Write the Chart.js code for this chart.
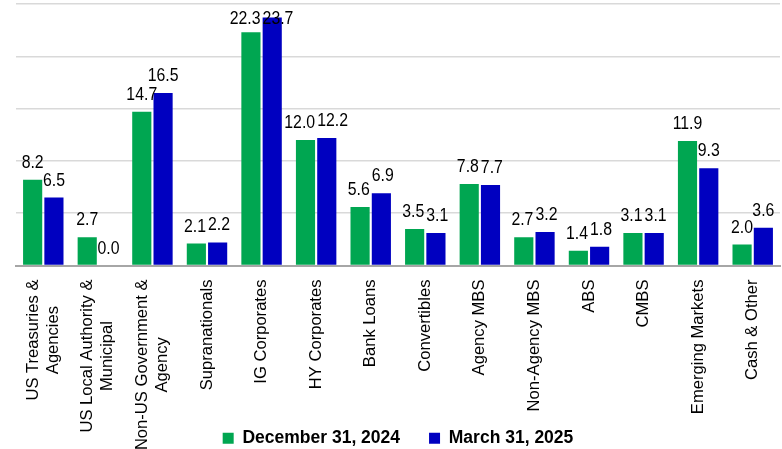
<!DOCTYPE html>
<html>
<head>
<meta charset="utf-8">
<script src="https://cdn.jsdelivr.net/npm/chart.js@4.4.1/dist/chart.umd.min.js"></script>
<style>
  html, body { margin: 0; padding: 0; background: #fff; }
  #wrap { width: 782px; height: 449px; position: relative; }
</style>
</head>
<body>
<div id="wrap"><canvas id="chart"></canvas></div>
<script>
const categories = [
  ['US Treasuries &', 'Agencies'],
  ['US Local Authority &', 'Municipal'],
  ['Non-US Government &', 'Agency'],
  ['Supranationals'],
  ['IG Corporates'],
  ['HY Corporates'],
  ['Bank Loans'],
  ['Convertibles'],
  ['Agency MBS'],
  ['Non-Agency MBS'],
  ['ABS'],
  ['CMBS'],
  ['Emerging Markets'],
  ['Cash & Other']
];
const dec2024 = [8.2, 2.7, 14.7, 2.1, 22.3, 12.0, 5.6, 3.5, 7.8, 2.7, 1.4, 3.1, 11.9, 2.0];
const mar2025 = [6.5, 0.0, 16.5, 2.2, 23.7, 12.2, 6.9, 3.1, 7.7, 3.2, 1.8, 3.1, 9.3, 3.6];
const seriesNames = ['December 31, 2024', 'March 31, 2025'];

const FONT = '"Liberation Sans", Arial, sans-serif';
const SQUEEZE = 0.88;

// value labels above each bar, pushed apart when a pair collides
const valueLabels = {
  id: 'valueLabels',
  afterDatasetsDraw(chart) {
    const ctx = chart.ctx;
    ctx.save();
    ctx.font = '18px ' + FONT;
    ctx.fillStyle = '#000';
    ctx.textAlign = 'center';
    ctx.textBaseline = 'alphabetic';
    const m0 = chart.getDatasetMeta(0).data;
    const m1 = chart.getDatasetMeta(1).data;
    m0.forEach((b0, i) => {
      const b1 = m1[i];
      const items = [
        { t: dec2024[i].toFixed(1), x: b0.x, y: Math.max(b0.y - 12, 24) },
        { t: mar2025[i].toFixed(1), x: b1.x, y: Math.max(b1.y - 12, 24) }
      ];
      items.forEach(it => { it.w = ctx.measureText(it.t).width * SQUEEZE; });
      const [a, b] = items;
      if (Math.abs(a.y - b.y) < 14) {
        const need = (a.w + b.w) / 2 + 2 - (b.x - a.x);
        if (need > 0) { a.x -= need / 2; b.x += need / 2; }
      }
      items.forEach(it => {
        ctx.save();
        ctx.translate(it.x, it.y);
        ctx.scale(SQUEEZE, 1);
        ctx.fillText(it.t, 0, 0);
        ctx.restore();
      });
    });
    ctx.restore();
  }
};

// rotated category labels, lines centred like the original
const catLabels = {
  id: 'catLabels',
  afterDraw(chart) {
    const ctx = chart.ctx;
    const xs = chart.scales.x;
    const top = chart.chartArea.bottom + 14;
    const lh = 20;
    ctx.save();
    ctx.font = '16.6px ' + FONT;
    ctx.fillStyle = '#000';
    ctx.textAlign = 'center';
    ctx.textBaseline = 'middle';
    categories.forEach((lines, i) => {
      const px = xs.getPixelForTick(i);
      const maxW = Math.max(...lines.map(l => ctx.measureText(l).width));
      lines.forEach((line, j) => {
        ctx.save();
        ctx.translate(px + (j - (lines.length - 1) / 2) * lh, top + maxW / 2);
        ctx.rotate(-Math.PI / 2);
        ctx.fillText(line, 0, 0);
        ctx.restore();
      });
    });
    ctx.restore();
  }
};

new Chart(document.getElementById('chart'), {
  type: 'bar',
  data: {
    labels: categories.map(c => c.join(' ')),
    datasets: [
      { label: seriesNames[0], data: dec2024, backgroundColor: '#00A651', borderWidth: 0 },
      { label: seriesNames[1], data: mar2025, backgroundColor: '#0000C0', borderWidth: 0 }
    ]
  },
  options: {
    responsive: true,
    maintainAspectRatio: false,
    animation: false,
    layout: { padding: { left: 16, right: 2, top: 4, bottom: -8 } },
    datasets: { bar: { categoryPercentage: 0.78, barPercentage: 0.9 } },
    plugins: {
      tooltip: { enabled: false },
      legend: {
        position: 'bottom',
        labels: {
          boxWidth: 11,
          boxHeight: 11,
          padding: 29,
          color: '#000',
          font: { family: FONT, size: 17.5, weight: 'bold' }
        }
      }
    },
    scales: {
      x: {
        grid: { display: false, drawTicks: false },
        border: { display: true, color: '#a6a6a6', width: 2 },
        ticks: { display: false },
        afterFit(s) { s.height = 135; }
      },
      y: {
        min: 0,
        max: 25,
        ticks: { display: false, stepSize: 5 },
        border: { display: false },
        grid: { color: '#d9d9d9', lineWidth: 1.5, drawTicks: false }
      }
    }
  },
  plugins: [valueLabels, catLabels]
});
</script>
</body>
</html>
